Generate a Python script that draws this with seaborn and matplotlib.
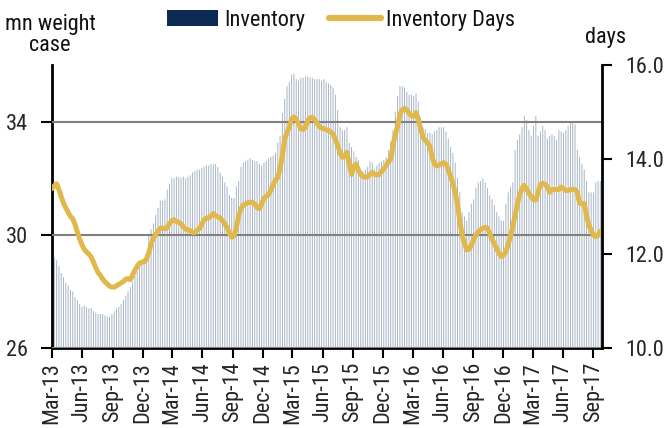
import numpy as np
import pandas as pd
import matplotlib
matplotlib.use("Agg")
import matplotlib.pyplot as plt
from matplotlib import font_manager as fm
import seaborn as sns
from matplotlib.patches import Patch
from matplotlib.lines import Line2D
from matplotlib.ticker import FormatStrFormatter

# ---------------- data (weekly, starting 1 Mar 2013) ----------------
start_date = "2013-03-01"

inventory = [
    29.3,
    29.2, 29.1, 28.9, 28.65, 28.5, 28.3, 28.2, 28.05, 28.0, 27.8,
    27.7, 27.55, 27.45, 27.5, 27.45, 27.4, 27.4, 27.3, 27.25, 27.2,
    27.2, 27.2, 27.15, 27.1, 27.1, 27.2, 27.3, 27.4, 27.45, 27.55,
    27.7, 27.85, 28.0, 28.15, 28.35, 28.55, 28.7, 28.9, 29.0, 29.1,
    29.1, 30.0, 30.2, 30.4, 30.7, 30.95, 31.2, 31.2, 31.25, 31.6,
    31.8, 32.0, 32.0, 32.05, 32.05, 32.0, 32.05, 32.0, 32.05, 32.1,
    32.2, 32.25, 32.3, 32.3, 32.35, 32.4, 32.45, 32.45, 32.5, 32.5,
    32.5, 32.4, 32.2, 32.05, 31.85, 31.7, 31.4, 31.3, 31.3, 31.7,
    31.9, 32.4, 32.55, 32.6, 32.65, 32.7, 32.65, 32.6, 32.6, 32.5,
    32.45, 32.55, 32.6, 32.7, 32.75, 32.8, 32.9, 33.25, 33.5, 34.3,
    34.8, 35.25, 35.4, 35.65, 35.7, 35.5, 35.45, 35.55, 35.55, 35.6,
    35.6, 35.55, 35.55, 35.5, 35.5, 35.5, 35.45, 35.5, 35.4, 35.35,
    35.3, 35.2, 34.95, 34.4, 33.8, 33.7, 33.7, 33.8, 33.25, 33.1,
    32.95, 32.75, 32.65, 32.3, 32.25, 32.3, 32.4, 32.6, 32.55, 32.3,
    32.45, 32.55, 32.6, 32.65, 32.75, 33.0, 33.3, 33.7, 34.35, 34.9,
    35.25, 35.25, 35.2, 35.05, 34.95, 34.95, 34.9, 35.0, 34.7, 34.15,
    33.8, 33.75, 33.6, 33.6, 33.55, 33.65, 33.7, 33.8, 33.8, 33.8,
    33.65, 33.4, 33.1, 32.9, 32.55, 32.0, 31.5, 30.8, 30.65, 30.5,
    30.8, 31.1, 31.25, 31.65, 31.85, 31.9, 32.0, 31.85, 31.65, 31.4,
    31.25, 31.05, 30.8, 30.65, 30.5, 30.5, 31.1, 31.5, 31.7, 31.85,
    33.0, 33.35, 33.55, 33.8, 34.2, 34.05, 33.7, 33.5, 33.85, 34.2,
    33.5, 33.65, 33.85, 33.7, 33.4, 33.5, 33.55, 33.5, 33.35, 33.7,
    33.65, 33.6, 33.7, 33.85, 33.95, 34.0, 33.9, 33.0, 32.75, 32.5,
    32.3, 31.9, 31.5, 31.5, 31.5, 31.85, 31.9, 31.9,
]

inventory_days = [
    13.38, 13.44, 13.48, 13.36, 13.21, 13.07, 12.97, 12.88, 12.79, 12.74,
    12.62, 12.46, 12.31, 12.19, 12.09, 12.04, 11.99, 11.93, 11.82, 11.70,
    11.60, 11.54, 11.46, 11.40, 11.36, 11.31, 11.29, 11.29, 11.32, 11.35,
    11.38, 11.41, 11.46, 11.47, 11.45, 11.55, 11.65, 11.73, 11.80, 11.82,
    11.83, 11.89, 12.02, 12.21, 12.33, 12.40, 12.48, 12.54, 12.54, 12.53,
    12.55, 12.64, 12.70, 12.72, 12.68, 12.67, 12.63, 12.57, 12.52, 12.50,
    12.49, 12.45, 12.45, 12.50, 12.53, 12.62, 12.72, 12.75, 12.76, 12.80,
    12.85, 12.80, 12.78, 12.76, 12.70, 12.63, 12.55, 12.43, 12.35, 12.38,
    12.55, 12.80, 12.95, 13.03, 13.05, 13.08, 13.09, 13.09, 13.05, 12.98,
    12.95, 13.06, 13.17, 13.22, 13.25, 13.35, 13.46, 13.56, 13.62, 13.80,
    14.09, 14.44, 14.57, 14.68, 14.86, 14.90, 14.86, 14.75, 14.65, 14.63,
    14.68, 14.82, 14.88, 14.89, 14.84, 14.77, 14.69, 14.66, 14.65, 14.63,
    14.61, 14.58, 14.54, 14.42, 14.29, 14.14, 14.04, 14.08, 14.15, 13.90,
    13.68, 13.85, 13.90, 13.77, 13.68, 13.63, 13.62, 13.63, 13.68, 13.72,
    13.68, 13.67, 13.68, 13.74, 13.80, 13.87, 13.95, 14.00, 14.30, 14.53,
    14.70, 14.95, 15.05, 15.08, 15.05, 14.97, 14.93, 14.91, 14.99, 14.85,
    14.65, 14.47, 14.40, 14.35, 14.28, 14.05, 13.90, 13.86, 13.88, 13.91,
    13.93, 13.90, 13.78, 13.64, 13.49, 13.30, 13.04, 12.68, 12.40, 12.22,
    12.08, 12.10, 12.17, 12.30, 12.40, 12.46, 12.51, 12.54, 12.56, 12.54,
    12.42, 12.31, 12.21, 12.11, 12.00, 11.94, 11.97, 12.05, 12.18, 12.37,
    12.58, 12.82, 13.05, 13.25, 13.38, 13.45, 13.37, 13.28, 13.21, 13.14,
    13.14, 13.30, 13.47, 13.49, 13.47, 13.42, 13.30, 13.36, 13.36, 13.36,
    13.36, 13.41, 13.38, 13.34, 13.34, 13.36, 13.36, 13.36, 13.30, 13.07,
    13.06, 13.06, 12.80, 12.60, 12.50, 12.39, 12.36, 12.39, 12.48,
]

tick_labels = ["Mar-13", "Jun-13", "Sep-13", "Dec-13", "Mar-14", "Jun-14",
               "Sep-14", "Dec-14", "Mar-15", "Jun-15", "Sep-15", "Dec-15",
               "Mar-16", "Jun-16", "Sep-16", "Dec-16", "Mar-17", "Jun-17",
               "Sep-17"]
left_ticks = [26, 30, 34]
right_ticks = [10, 12, 14, 16]

# ---------------- styling ----------------
NAVY = "#0d2b52"
BAR = "#a8b4c5"
GOLD = "#e0b84c"
GRID = "#808080"

sns.set_style("white")

# pick a condensed sans font if one is installed, else a narrow-ish fallback
condensed = ("condensed", "semi-condensed", "extra-condensed", "ultra-condensed")
chosen = None
prefs = ["Liberation Sans Narrow", "Roboto Condensed", "Open Sans Condensed",
         "Noto Sans", "Open Sans", "Roboto", "Lato", "Inter", "DejaVu Sans"]
entries = fm.fontManager.ttflist
for p in prefs:
    for f in entries:
        if f.name == p and str(f.stretch) in condensed and f.style == "normal":
            chosen = (f.name, f.stretch)
            break
    if chosen:
        break
if chosen is None:
    for f in entries:
        if str(f.stretch) in condensed and f.style == "normal" and "Mono" not in f.name \
                and "Serif" not in f.name:
            chosen = (f.name, f.stretch)
            break
if chosen is not None:
    plt.rcParams["font.family"] = [chosen[0], "DejaVu Sans"]
    plt.rcParams["font.stretch"] = chosen[1]
    FS = 16.0
else:
    plt.rcParams["font.family"] = ["Liberation Sans", "DejaVu Sans"]
    FS = 13.5
plt.rcParams["text.color"] = "#111111"

n = min(len(inventory), len(inventory_days))
dates = pd.date_range(start_date, periods=n, freq="7D")
t0 = pd.Timestamp(start_date)
df = pd.DataFrame({
    "day": (dates - t0).days.astype(float),
    "Inventory": inventory[:n],
    "Inventory Days": inventory_days[:n],
})

fig = plt.figure(figsize=(6.69, 4.28), dpi=100)
ax = fig.add_axes([52 / 669, 1 - 348 / 428, 550 / 669, 283 / 428])

sns.barplot(data=df, x="day", y="Inventory", native_scale=True, width=0.42,
            color=BAR, saturation=1, linewidth=0, errorbar=None, ax=ax)
for p in ax.patches:
    p.set_snap(False)

ax.set_ylim(26, 36)
ax.set_yticks(left_ticks)
ax.yaxis.grid(True, color=GRID, linewidth=1.5)
ax.xaxis.grid(False)
ax.set_axisbelow(False)

tick_days = [(d - t0).days for d in pd.date_range("2013-03-01", "2017-09-01", freq="3MS")]
ax.set_xticks(tick_days)
ax.set_xticklabels(tick_labels, rotation=90)
ax.set_xlim(0, 1671)
ax.set_xlabel("")
ax.set_ylabel("")

ax2 = ax.twinx()
sns.lineplot(data=df, x="day", y="Inventory Days", color=GOLD, linewidth=3.6,
             ax=ax2, legend=False)
ax2.lines[0].set_solid_capstyle("round")
ax2.set_ylim(10, 16)
ax2.set_yticks(right_ticks)
ax2.yaxis.set_major_formatter(FormatStrFormatter("%.1f"))
ax2.set_xlim(0, 1671)
ax2.set_xlabel("")
ax2.set_ylabel("")
ax2.grid(False)

for a in (ax, ax2):
    a.spines["top"].set_visible(False)
ax.spines["right"].set_visible(False)
ax2.spines["left"].set_visible(False)
ax2.spines["bottom"].set_visible(False)
for s in ("left", "bottom"):
    ax.spines[s].set_linewidth(2)
    ax.spines[s].set_color("black")
ax2.spines["right"].set_linewidth(2)
ax2.spines["right"].set_color("black")

ax.tick_params(axis="x", direction="out", length=7, width=1.5, color="black",
               labelsize=FS, pad=3, bottom=True)
ax.tick_params(axis="y", direction="out", length=8, width=1.5, color="black",
               labelsize=FS, pad=9, left=True)
ax2.tick_params(axis="y", direction="out", length=7, width=1.5, color="black",
                labelsize=FS, pad=10, right=True)

fig.text(50 / 669, 1 - 35 / 428, "mn weight\ncase", ha="center", va="center",
         fontsize=FS, linespacing=1.05)
fig.text(606 / 669, 1 - 38 / 428, "days", ha="center", va="center", fontsize=FS)

handles = [Patch(facecolor=NAVY, edgecolor="none", label="Inventory"),
           Line2D([], [], color=GOLD, linewidth=4.5, label="Inventory Days")]
fig.legend(handles=handles, loc="upper center", bbox_to_anchor=(0.51, 0.988),
           ncol=2, frameon=False, fontsize=FS, handlelength=2.3,
           handleheight=0.7, handletextpad=0.25, columnspacing=1.1,
           borderaxespad=0.0, borderpad=0.2)

fig.savefig("out.png", dpi=100)
